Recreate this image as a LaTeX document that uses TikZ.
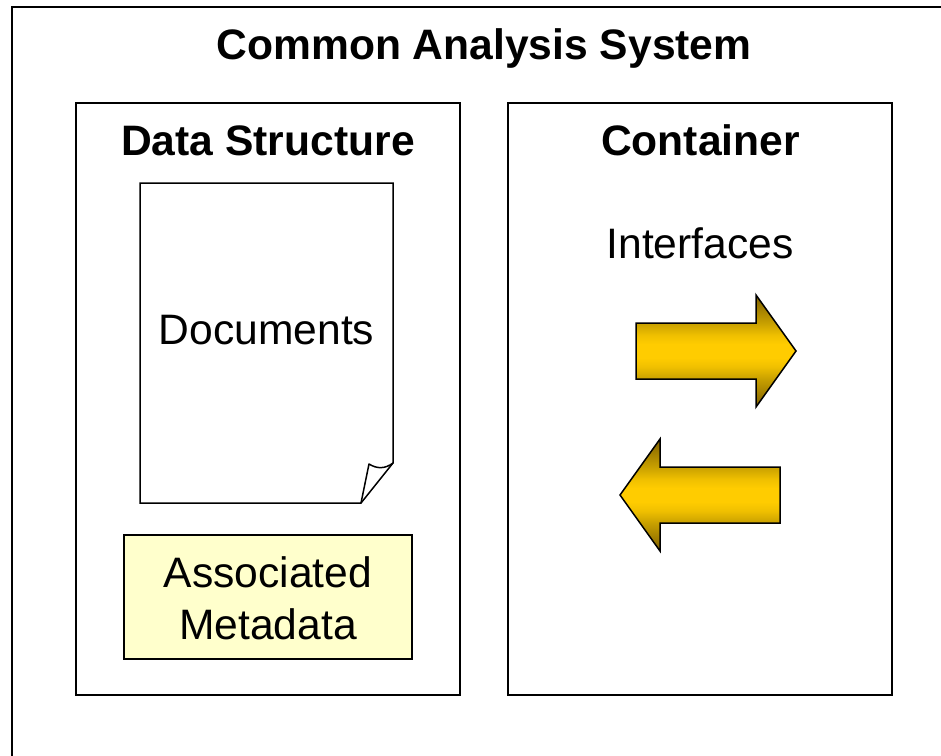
\documentclass[tikz,border=0pt]{standalone}
\usepackage{fontspec}
\setmainfont{Liberation Sans}
\definecolor{gold}{HTML}{7F6000}
\definecolor{goldb}{HTML}{C8A000}
\definecolor{goldc}{HTML}{F0C000}
\definecolor{goldmid}{HTML}{FFCC00}
\definecolor{notefill}{HTML}{FFFFCC}
\pgfdeclareverticalshading{goldshade}{100bp}{color(0bp)=(gold); color(25bp)=(gold); color(37.5bp)=(goldb); color(43bp)=(goldc); color(47bp)=(goldmid); color(53bp)=(goldmid); color(57bp)=(goldc); color(62.5bp)=(goldb); color(75bp)=(gold); color(100bp)=(gold)}
\tikzset{
  x=1pt,y=-1pt,
  frame/.style={draw=black,line width=1.6pt,fill=white,inner sep=0pt,outer sep=0pt,minimum width=384pt,minimum height=592pt},
  titletext/.style={anchor=base,inner sep=0pt,font=\bfseries\fontsize{42.6}{48}\selectfont},
  bodytext/.style={anchor=base,inner sep=0pt,font=\fontsize{42.6}{50}\selectfont},
  goldarrow/.style={line width=1.5pt,draw=black,line join=miter,shade,shading=goldshade},
}
\begin{document}
\begin{tikzpicture}
\useasboundingbox (0,0) rectangle (941,755);
\clip (0,0) rectangle (941,755);
\draw[line width=2pt] (12,800) -- (12,7) -- (1000,7);
\node[titletext] (title) at (484,59) {Common Analysis System};
\node[frame] (ds) at (268,399) {};
\node[frame] (cont) at (700,399) {};
\node[titletext] (dstitle) at (268,155) {Data Structure};
\node[titletext] (conttitle) at (700.5,155) {Container};
\draw[line width=1.5pt,fill=white,line join=miter] (140,183) -- (393,183) -- (393,463) -- (361,503) -- (140,503) -- cycle;
\draw[line width=1.5pt,line join=round] (361,503) -- (369,464) .. controls (377,469) and (385,469) .. (393,463);
\node[bodytext] (docs) at (266.5,344) {Documents};
\node[draw=black,line width=1.5pt,fill=notefill,minimum width=288pt,minimum height=124pt,inner sep=0pt,outer sep=0pt] (meta) at (268,597) {};
\node[bodytext] (assoc) at (268,587) {Associated};
\node[bodytext] (metat) at (268,639) {Metadata};
\node[bodytext] (iface) at (700,258) {Interfaces};
\path[goldarrow] (636,323) -- (756,323) -- (756,295) -- (796,351) -- (756,407) -- (756,379) -- (636,379) -- cycle;
\path[goldarrow] (780,467) -- (660,467) -- (660,439) -- (620,495) -- (660,551) -- (660,523) -- (780,523) -- cycle;
\end{tikzpicture}
\end{document}
